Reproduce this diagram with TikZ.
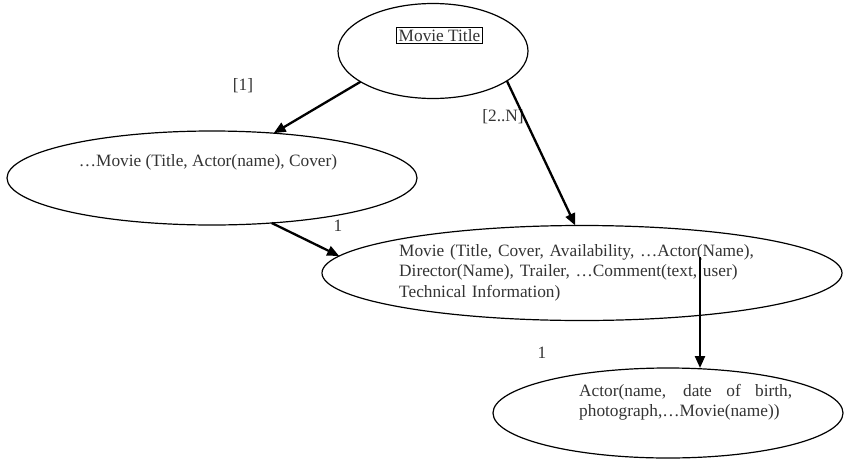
\documentclass[tikz,border=0pt]{standalone}
\usepackage{fontspec}
\setmainfont{Liberation Serif}
\usetikzlibrary{shapes.geometric,arrows.meta}
\begin{document}
\begin{tikzpicture}[x=1pt,y=-1pt,
  ell/.style={draw=black,line width=1.2pt,ellipse,inner sep=0pt,outer sep=0pt},
  txt/.style={text=black!80,font=\fontsize{17.3}{20.5}\selectfont,inner sep=0pt},
  conn/.style={line width=2.3pt,-{Triangle[length=12pt,width=10pt]}},
  lbl/.style={txt}]
\useasboundingbox (0,0) rectangle (844,461);
% ellipses
\node[ell,minimum width=190pt,minimum height=95pt] (top) at (433,51) {};
\node[ell,minimum width=410pt,minimum height=94pt] (left) at (212,178) {};
\node[ell,minimum width=520pt,minimum height=95pt] (mid) at (582,273) {};
\node[ell,minimum width=350pt,minimum height=90pt] (bot) at (668,413) {};
% texts
\node[txt,draw=black,line width=0.8pt,inner xsep=2pt,inner ysep=2pt,anchor=base] (ttitle) at (439.5,41) {Movie Title};
\node[txt,anchor=base] (tleft) at (208,166) {…Movie (Title, Actor(name), Cover)};
\node[txt,anchor=base west,text width=440pt,align=left] (tmid) at (399,256)
  {Movie (Title, Cover, Availability, …Actor(Name),\\Director(Name), Trailer, …Comment(text, user)\\Technical Information)};
\node[txt,anchor=base west,text width=213pt,align=justify] (tbot) at (579,396)
  {Actor(name, date of birth,\linebreak photograph,…Movie(name))};
% labels
\node[lbl] (l1) at (243,86) {[1]};
\node[lbl] (l2) at (503,117) {[2..N]};
\node[lbl] (l3) at (338,226) {1};
\node[lbl] (l4) at (542,353) {1};
% connectors
\coordinate (a4) at (700,257);
\draw[conn] (top.203) -- (left.36);
\draw[conn] (top.338) -- (mid.98);
\draw[conn] (left.323) -- (mid.176);
\draw[conn] (a4) -- (a4 |- bot.north);
\end{tikzpicture}
\end{document}
